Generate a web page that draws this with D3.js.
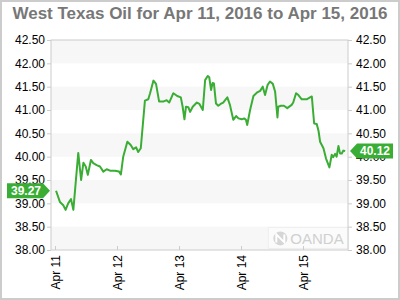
<!DOCTYPE html>
<html>
<head>
<meta charset="utf-8">
<script src="https://cdn.jsdelivr.net/npm/d3@7"></script>
<style>
  body { margin: 0; background: #fff; }
  svg { display: block; font-family: "Liberation Sans", Arial, sans-serif; }
</style>
</head>
<body>
<svg></svg>
<script>
// Chart data: hours after Apr 11 00:00 and WTI price
const hours = [0.4, 1.9, 3.2, 4.1, 5.1, 6.2, 7.1, 9.0, 10.1, 11.0, 11.9, 12.7, 13.9, 14.8, 16.1, 17.4,
  18.7, 20.0, 21.3, 23.2, 24.8, 25.5, 26.4, 28.0, 29.3, 30.3, 31.4, 32.2, 33.2, 34.8, 36.1, 36.8,
  38.1, 39.1, 40.3, 41.9, 43.2, 44.2, 45.8, 47.3, 48.7, 49.4, 50.1, 50.7, 51.6, 52.3, 53.3, 54.9,
  55.9, 56.5, 57.2, 58.1, 59.1, 59.7, 60.4, 61.0, 61.5, 62.3, 63.2, 64.1, 65.1, 66.7, 67.7, 69.0,
  70.1, 71.0, 72.3, 73.2, 73.9, 74.4, 75.5, 76.8, 78.1, 79.4, 80.4, 81.3, 82.3, 83.2, 84.3, 85.2,
  86.1, 86.4, 87.4, 88.6, 89.9, 91.6, 92.2, 93.3, 94.2, 95.5, 97.4, 98.7, 99.4, 100.3, 101.3, 102.0,
  102.6, 103.9, 104.9, 106.2, 107.1, 107.7, 108.4, 109.0, 109.7, 110.3, 111.0, 111.6, 112.3];
const prices = [39.27, 39.03, 38.96, 38.86, 39.00, 39.09, 38.86, 40.08, 39.50, 39.87, 39.79, 39.61, 39.93, 39.86, 39.82, 39.79,
  39.68, 39.73, 39.70, 39.70, 39.68, 39.62, 40.00, 40.32, 40.25, 40.16, 40.20, 40.10, 40.18, 41.20, 41.23, 41.36,
  41.63, 41.56, 41.18, 41.18, 41.21, 41.16, 41.36, 41.30, 41.27, 41.07, 40.80, 41.07, 41.06, 40.96, 41.07, 41.16,
  41.13, 41.07, 41.00, 41.64, 41.73, 41.70, 41.43, 41.58, 41.57, 41.14, 41.09, 41.13, 41.16, 41.27, 41.11, 40.79,
  40.87, 40.82, 40.80, 40.82, 40.79, 40.68, 41.00, 41.30, 41.37, 41.41, 41.50, 41.32, 41.54, 41.61, 41.56, 41.39,
  40.84, 41.07, 41.09, 41.09, 41.04, 41.11, 41.16, 41.36, 41.32, 41.23, 41.23, 41.27, 41.29, 40.71, 40.70, 40.55,
  40.32, 40.18, 39.96, 39.77, 40.04, 39.99, 40.06, 40.00, 40.23, 40.07, 40.07, 40.13, 40.12];
const dayHours = [0, 24, 48, 72, 96];
const dayLabels = ["Apr 11", "Apr 12", "Apr 13", "Apr 14", "Apr 15"];
const priceTicks = [38, 38.5, 39, 39.5, 40, 40.5, 41, 41.5, 42, 42.5];

const width = 400;
const height = 300;
const green = "#3aad35";

const svg = d3.select("svg").attr("width", width).attr("height", height);

// plot box
const box = { left: 51, right: 348, top: 40, bottom: 250 };

const x = d3.scaleLinear().domain([-1.55, 113.4]).range([box.left, box.right]);
const y = d3.scaleLinear().domain([38, 42.5]).range([box.bottom, box.top]);

// outer frame
svg.append("rect")
  .attr("x", 1).attr("y", 1)
  .attr("width", width - 2).attr("height", height - 2)
  .attr("fill", "#fff")
  .attr("stroke", "#ccc")
  .attr("stroke-width", 2);

// title
svg.append("text")
  .attr("x", width / 2)
  .attr("y", 19)
  .attr("text-anchor", "middle")
  .attr("font-size", 17)
  .attr("font-weight", "bold")
  .attr("fill", "#777")
  .text("West Texas Oil for Apr 11, 2016 to Apr 15, 2016");

// alternating bands
svg.append("g")
  .selectAll("rect")
  .data(priceTicks.filter((d, i) => i % 2 === 1))
  .join("rect")
  .attr("x", box.left)
  .attr("width", box.right - box.left)
  .attr("y", (d) => y(d))
  .attr("height", (d) => y(d - 0.5) - y(d))
  .attr("fill", "#f7f7f7");

// watermark
const wm = svg.append("g").attr("transform", `translate(${x(84.5)}, ${y(38.12)})`);
wm.append("rect")
  .attr("x", -5).attr("y", -17).attr("width", 80).attr("height", 21)
  .attr("fill", "#fbfbfb").attr("stroke", "#eee");
wm.append("circle").attr("cx", 7).attr("cy", -6).attr("r", 7).attr("fill", "#d6d6d6");
wm.append("path")
  .attr("d", "M3,-2 L3,-10 L11,-2 L11,-10")
  .attr("fill", "none").attr("stroke", "#fff").attr("stroke-width", 2);
wm.append("text")
  .attr("x", 17).attr("y", 0)
  .attr("font-size", 15)
  .attr("fill", "#d0d0d0")
  .text("OANDA");

// axes
const yLeft = d3.axisLeft(y).tickValues(priceTicks).tickFormat(d3.format(".2f")).tickSize(4).tickPadding(2);
const yRight = d3.axisRight(y).tickValues(priceTicks).tickFormat(d3.format(".2f")).tickSize(4).tickPadding(4);
const xAxis = d3.axisBottom(x).tickValues(dayHours).tickFormat((d, i) => dayLabels[i]).tickSize(4).tickPadding(4);

const styleAxis = (g) => {
  g.selectAll(".domain").remove();
  g.selectAll(".tick line").attr("stroke", "#ccc");
  g.selectAll("text").attr("font-size", 12).attr("fill", "#000");
  g.attr("font-family", null).attr("font-size", null);
};

svg.append("g").attr("transform", `translate(${box.left},0)`).call(yLeft).call(styleAxis);
svg.append("g").attr("transform", `translate(${box.right},0)`).call(yRight).call(styleAxis);

const xG = svg.append("g").attr("transform", `translate(0,${box.bottom})`).call(xAxis).call(styleAxis);
xG.selectAll(".tick line").attr("y2", -4);
xG.selectAll("text")
  .attr("transform", "rotate(-90)")
  .attr("text-anchor", "end")
  .attr("x", -5)
  .attr("y", 0)
  .attr("dy", "0.35em");

// plot border
svg.append("rect")
  .attr("x", box.left).attr("y", box.top)
  .attr("width", box.right - box.left).attr("height", box.bottom - box.top)
  .attr("fill", "none")
  .attr("stroke", "#ccc");

// price line
const line = d3.line()
  .x((d, i) => x(hours[i]))
  .y((d) => y(d));

svg.append("path")
  .datum(prices)
  .attr("d", line)
  .attr("fill", "none")
  .attr("stroke", green)
  .attr("stroke-width", 2)
  .attr("stroke-linejoin", "round");

// value tags
const first = prices[0];
const last = prices[prices.length - 1];

const y0 = y(first);
svg.append("path")
  .attr("d", `M7,${y0 - 7.5} L43,${y0 - 7.5} L50,${y0} L43,${y0 + 7.5} L7,${y0 + 7.5} Z`)
  .attr("fill", green);
svg.append("text")
  .attr("x", 26).attr("y", y0).attr("dy", "0.36em")
  .attr("text-anchor", "middle")
  .attr("font-size", 12).attr("font-weight", "bold").attr("fill", "#fff")
  .text(d3.format(".2f")(first));

const y1 = y(last);
svg.append("path")
  .attr("d", `M350,${y1} L357,${y1 - 7.5} L393,${y1 - 7.5} L393,${y1 + 7.5} L357,${y1 + 7.5} Z`)
  .attr("fill", green);
svg.append("text")
  .attr("x", 375).attr("y", y1).attr("dy", "0.36em")
  .attr("text-anchor", "middle")
  .attr("font-size", 12).attr("font-weight", "bold").attr("fill", "#fff")
  .text(d3.format(".2f")(last));
</script>
</body>
</html>
